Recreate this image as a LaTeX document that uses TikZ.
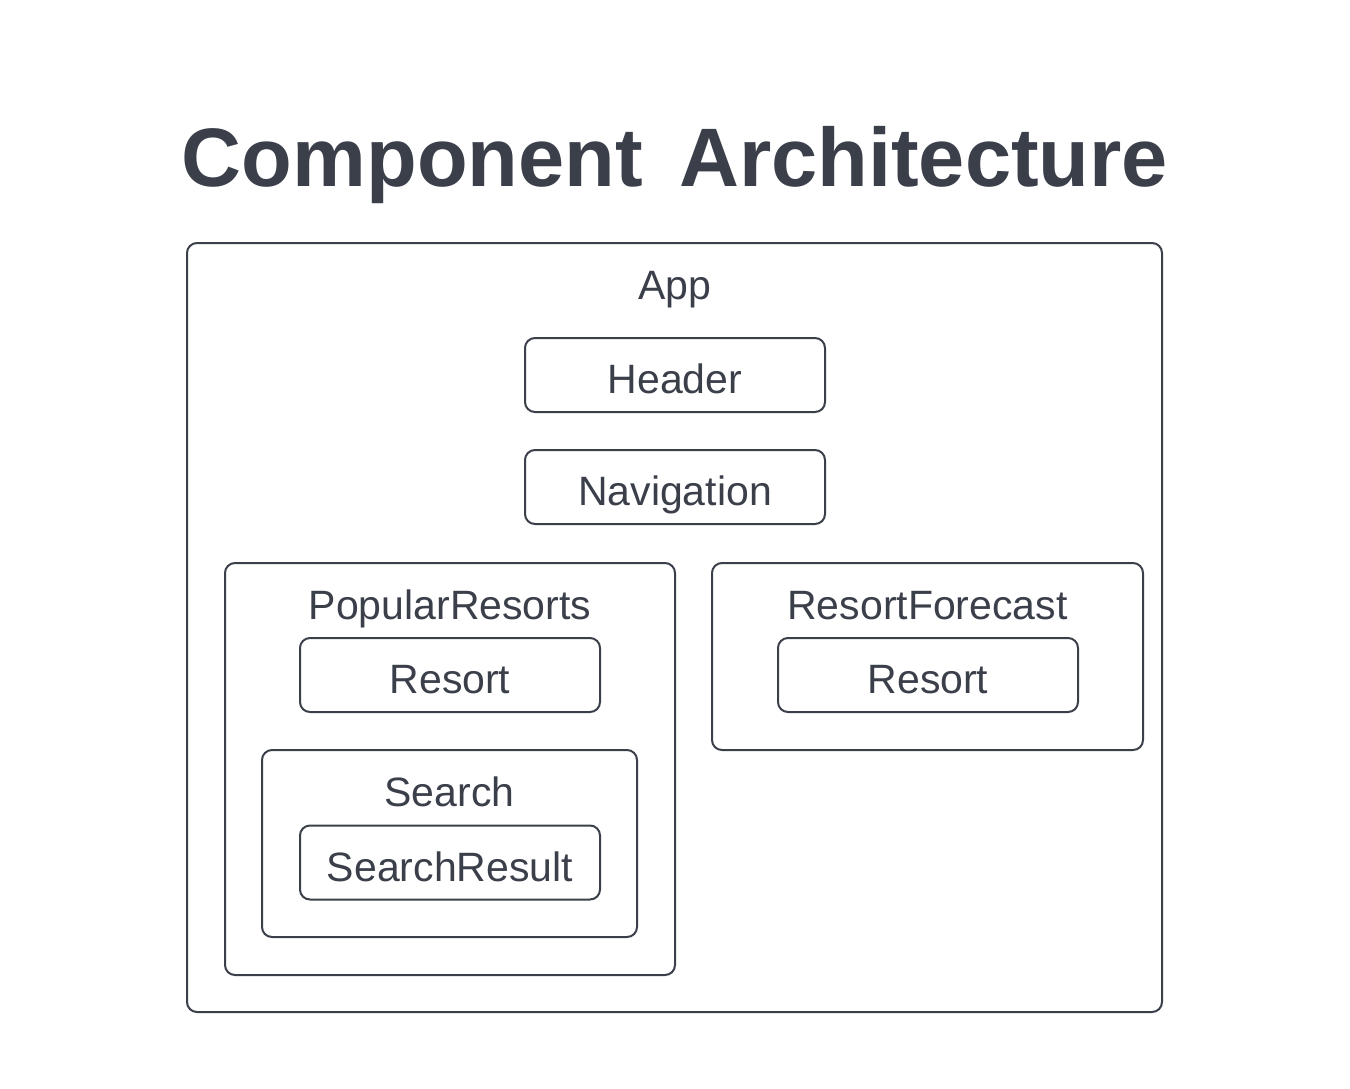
\documentclass[tikz,border=0pt]{standalone}
\usepackage{fontspec}
\setmainfont{Liberation Sans}
\usetikzlibrary{positioning}
\definecolor{slate}{HTML}{3A3F4A}

\begin{document}
\begin{tikzpicture}[x=1pt,y=-1pt,node distance=36pt,
  box/.style={draw=slate,line width=2pt,rounded corners=10pt,inner sep=0pt,minimum width=300pt,minimum height=74pt,text height=37pt,text depth=0pt,text=slate,font=\fontsize{41}{49}\selectfont},
  group/.style={draw=slate,line width=2pt,rounded corners=10pt,inner sep=0pt},
  grouplabel/.style={anchor=base,text=slate,font=\fontsize{41}{49}\selectfont}]
\useasboundingbox (0,0) rectangle (1350,1088);
\node[anchor=base,text=slate,font=\fontsize{83}{100}\selectfont\bfseries] (title) at (675,186) {Component\hspace{13pt} Architecture};
% outer app
\node[group,minimum width=975pt,minimum height=769pt] (app) at (674.5,627.5) {};
\node[grouplabel] (applabel) at ([yshift=-57pt]app.north) {App};
\node[box] (header) at (675,375) {Header};
\node[box,below=of header] (nav) {Navigation};
% popular resorts
\node[group,minimum width=450pt,minimum height=412pt] (popular) at (450,769) {};
\node[grouplabel] (popularlabel) at ([yshift=-57pt]popular.north) {PopularResorts};
\node[box] (resort1) at (450,675) {Resort};
\node[group,minimum width=375pt,minimum height=187pt] (search) at (449.5,843.5) {};
\node[grouplabel] (searchlabel) at ([yshift=-57pt]search.north) {Search};
\node[box] (result) at (450,862.5) {SearchResult};
% resort forecast
\node[group,minimum width=431pt,minimum height=187pt] (forecast) at (927.5,656.5) {};
\node[grouplabel] (forecastlabel) at ([yshift=-57pt]forecast.north) {ResortForecast};
\node[box] (resort2) at (928,675) {Resort};
\end{tikzpicture}
\end{document}
